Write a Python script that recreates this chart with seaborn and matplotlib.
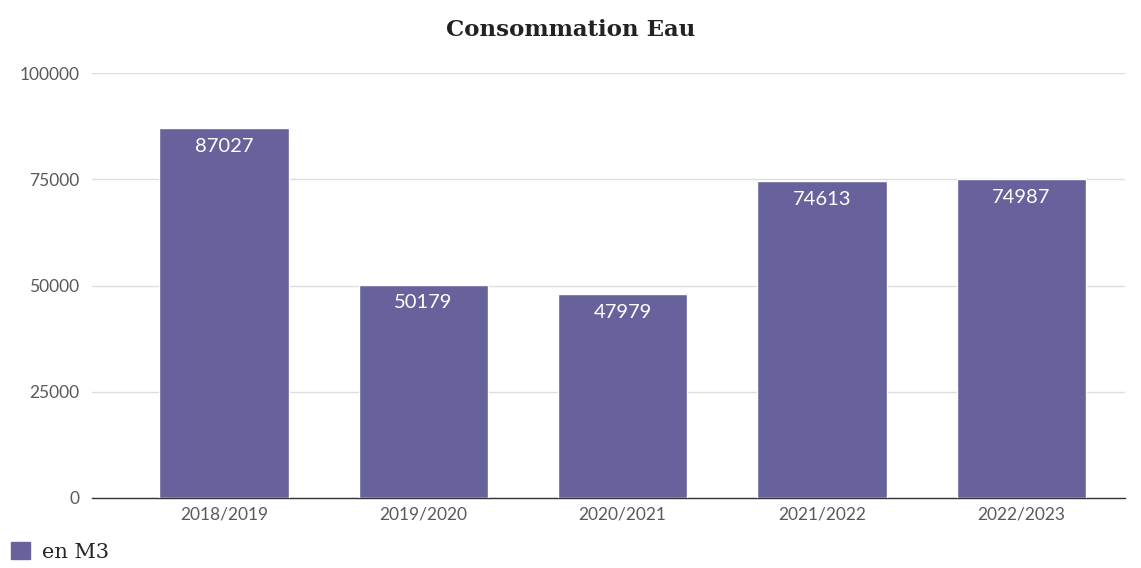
import matplotlib
matplotlib.use("Agg")
import matplotlib.pyplot as plt
import seaborn as sns
import pandas as pd
from matplotlib.patches import Patch

categories = ["2018/2019", "2019/2020", "2020/2021", "2021/2022", "2022/2023"]
values = [87027, 50179, 47979, 74613, 74987]
yticks = [0, 25000, 50000, 75000, 100000]
title = "Consommation Eau"
series_name = "en M3"

sns.set_theme(style="white")
plt.rcParams['font.family'] = ['Lato', 'DejaVu Sans']
color = "#67629c"

df = pd.DataFrame({"cat": categories, "val": values})

fig = plt.figure(figsize=(11.41, 5.68), dpi=100)
ax = fig.add_axes([92/1141, 1-498/568, (1125-92)/1141, (498-73)/568])
sns.barplot(data=df, x="cat", y="val", color=color, width=0.65, saturation=1, ax=ax, zorder=3)

ax.set_ylim(0, 100000)
ax.set_xlim(-0.662, 4.52)
ax.set_yticks(yticks)
ax.set_yticklabels([str(t) for t in yticks], fontsize=12.5, color="#5a5a5a")
ax.tick_params(axis='x', labelsize=12.5, labelcolor="#5a5a5a", length=0, pad=6)
ax.tick_params(axis='y', length=0, pad=9)
ax.yaxis.grid(True, color="#dddddd", linewidth=1, zorder=0)
ax.set_axisbelow(True)
for s in ["top", "right", "left"]:
    ax.spines[s].set_visible(False)
ax.spines["bottom"].set_color("#333333")
ax.spines["bottom"].set_linewidth(1)
ax.set_xlabel("")
ax.set_ylabel("")

for p, v in zip(ax.patches, values):
    ax.annotate(str(v), (p.get_x() + p.get_width()/2, p.get_height()),
                xytext=(0, -7), textcoords="offset points",
                ha="center", va="top", color="white", fontsize=14.5, zorder=5)

fig.text(0.5, 1-30/568, title, ha="center", va="center", fontsize=16.5,
         fontweight="bold", family=["DejaVu Serif"], color="#222222")

fig.legend(handles=[Patch(color=color)], labels=[series_name], loc="center left",
           bbox_to_anchor=(-0.005, 1-552/568), frameon=False, handlelength=0.9, handleheight=0.9,
           handletextpad=0.6, borderpad=0.3, prop={"family": ["DejaVu Serif"], "size": 15})

fig.savefig("out.png", dpi=100)
